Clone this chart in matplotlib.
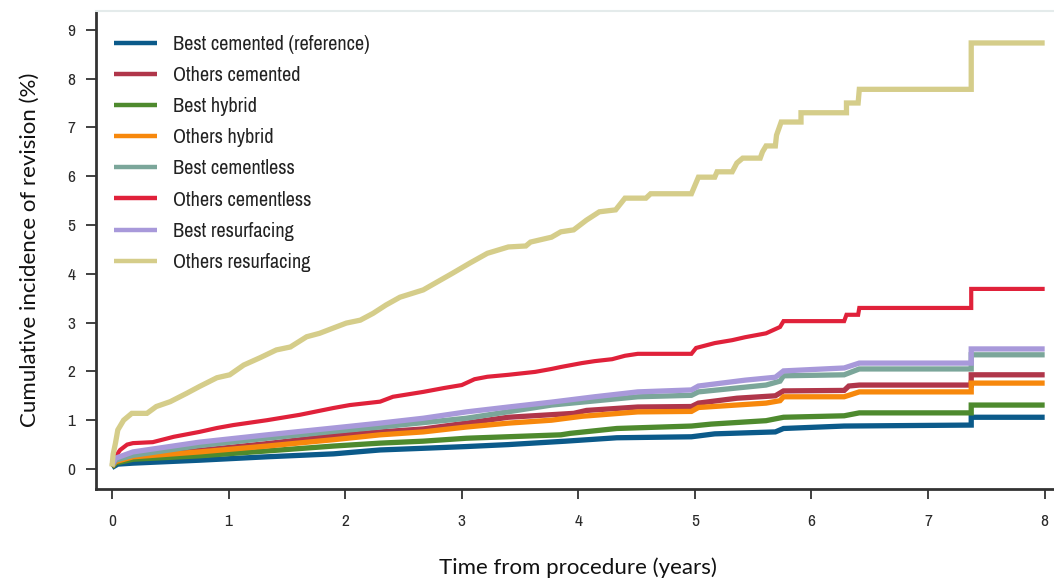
import matplotlib
matplotlib.use("Agg")
import matplotlib.pyplot as plt
from matplotlib import font_manager as fm

# ---------------- data ----------------
labels = ["Best cemented (reference)", "Others cemented", "Best hybrid", "Others hybrid",
          "Best cementless", "Others cementless", "Best resurfacing", "Others resurfacing"]
colors = ["#0B5A8A", "#B0364A", "#4E8A2E", "#F7880C", "#7BA69A", "#E0213A", "#A899DA", "#D5CD8A"]

# (time in years, cumulative incidence %)
best_cemented = [(0, 0.03), (0.05, 0.10), (0.18, 0.12), (0.75, 0.18), (1.33, 0.25), (1.90, 0.31), (2.30, 0.39),
                 (2.73, 0.43), (3.04, 0.46), (3.40, 0.50), (3.89, 0.57), (4.33, 0.64), (4.97, 0.66), (5.17, 0.72),
                 (5.69, 0.76), (5.76, 0.83), (6.28, 0.88), (7.37, 0.90), (7.37, 1.06), (8.0, 1.06)]
others_cemented = [(0, 0.05), (0.03, 0.16), (0.18, 0.25), (0.75, 0.38), (1.33, 0.52), (1.90, 0.68), (2.30, 0.76),
                   (2.67, 0.82), (3.04, 0.94), (3.40, 1.06), (3.96, 1.14), (4.07, 1.20), (4.51, 1.27), (4.97, 1.28),
                   (5.03, 1.35), (5.36, 1.45), (5.69, 1.50), (5.76, 1.60), (6.28, 1.61), (6.32, 1.70), (6.41, 1.72),
                   (7.37, 1.72), (7.37, 1.93), (8.0, 1.93)]
best_hybrid = [(0, 0.04), (0.03, 0.12), (0.18, 0.20), (0.75, 0.27), (1.33, 0.37), (1.90, 0.47), (2.30, 0.53),
               (2.67, 0.57), (3.04, 0.63), (3.85, 0.70), (3.93, 0.73), (4.33, 0.83), (4.97, 0.88), (5.14, 0.92),
               (5.61, 0.99), (5.76, 1.06), (6.28, 1.09), (6.41, 1.15), (7.37, 1.15), (7.37, 1.31), (8.0, 1.31)]
others_hybrid = [(0, 0.05), (0.03, 0.15), (0.18, 0.25), (0.75, 0.35), (1.33, 0.47), (1.90, 0.60), (2.30, 0.70),
                 (2.67, 0.76), (3.04, 0.86), (3.40, 0.94), (3.77, 1.00), (4.03, 1.08), (4.51, 1.17), (4.97, 1.18),
                 (5.03, 1.26), (5.61, 1.35), (5.73, 1.40), (5.76, 1.48), (6.28, 1.48), (6.32, 1.51), (6.41, 1.58),
                 (7.37, 1.58), (7.37, 1.76), (8.0, 1.76)]
best_cementless = [(0, 0.06), (0.03, 0.18), (0.18, 0.28), (0.75, 0.48), (1.33, 0.63), (1.90, 0.77), (2.30, 0.86),
                   (3.04, 1.04), (3.77, 1.31), (4.51, 1.48), (4.97, 1.51), (5.03, 1.58), (5.61, 1.72), (5.73, 1.80),
                   (5.76, 1.91), (6.28, 1.93), (6.41, 2.05), (7.37, 2.05), (7.37, 2.34), (8.0, 2.34)]
others_cementless = [(0, 0.10), (0.02, 0.18), (0.04, 0.29), (0.07, 0.39), (0.13, 0.50), (0.18, 0.53), (0.35, 0.55),
                     (0.53, 0.66), (0.75, 0.76), (0.90, 0.84), (1.04, 0.90), (1.33, 1.00), (1.61, 1.11), (1.90, 1.25),
                     (2.04, 1.31), (2.30, 1.38), (2.41, 1.48), (2.67, 1.58), (2.85, 1.66), (3.00, 1.72), (3.11, 1.84),
                     (3.22, 1.89), (3.40, 1.93), (3.63, 1.99), (3.77, 2.05), (3.85, 2.09), (4.03, 2.17), (4.14, 2.21),
                     (4.29, 2.25), (4.40, 2.32), (4.51, 2.36), (4.97, 2.36), (5.01, 2.48), (5.17, 2.58), (5.32, 2.64),
                     (5.43, 2.70), (5.61, 2.78), (5.73, 2.91), (5.76, 3.03), (6.28, 3.03), (6.30, 3.16), (6.40, 3.16),
                     (6.41, 3.30), (7.37, 3.30), (7.37, 3.69), (8.0, 3.69)]
best_resurfacing = [(0, 0.08), (0.03, 0.22), (0.18, 0.35), (0.75, 0.55), (1.33, 0.70), (1.90, 0.84), (2.30, 0.94),
                    (2.67, 1.04), (3.04, 1.17), (3.40, 1.27), (3.77, 1.37), (4.14, 1.48), (4.51, 1.58), (4.97, 1.62),
                    (5.03, 1.70), (5.43, 1.82), (5.69, 1.88), (5.76, 2.01), (6.28, 2.07), (6.41, 2.17), (7.37, 2.17),
                    (7.37, 2.46), (8.0, 2.46)]
others_resurfacing = [(0, 0.05), (0.01, 0.30), (0.03, 0.53), (0.05, 0.80), (0.10, 1.00), (0.17, 1.14), (0.30, 1.14),
                      (0.38, 1.28), (0.50, 1.38), (0.64, 1.55), (0.75, 1.69), (0.90, 1.87), (1.01, 1.93), (1.13, 2.13),
                      (1.27, 2.28), (1.41, 2.44), (1.53, 2.50), (1.67, 2.71), (1.78, 2.78), (1.90, 2.89), (2.01, 2.99),
                      (2.13, 3.05), (2.24, 3.19), (2.35, 3.36), (2.47, 3.52), (2.67, 3.67), (2.92, 4.01), (3.07, 4.22),
                      (3.22, 4.42), (3.40, 4.55), (3.55, 4.57), (3.59, 4.65), (3.77, 4.75), (3.85, 4.86), (3.96, 4.90),
                      (4.07, 5.10), (4.18, 5.27), (4.32, 5.31), (4.40, 5.55), (4.58, 5.55), (4.62, 5.64), (4.97, 5.64),
                      (5.03, 5.98), (5.17, 5.98), (5.19, 6.09), (5.32, 6.09), (5.36, 6.27), (5.41, 6.37), (5.56, 6.37),
                      (5.58, 6.50), (5.61, 6.62), (5.69, 6.62), (5.70, 6.84), (5.74, 7.11), (5.91, 7.11), (5.91, 7.30),
                      (6.30, 7.30), (6.30, 7.50), (6.40, 7.50), (6.41, 7.78), (7.37, 7.78), (7.37, 8.73), (8.0, 8.73)]

series = [best_cemented, others_cemented, best_hybrid, others_hybrid,
          best_cementless, others_cementless, best_resurfacing, others_resurfacing]
widths = [3.8, 3.8, 3.8, 3.8, 3.8, 3.0, 3.8, 3.8]

x_ticks = list(range(0, 9))
y_ticks = list(range(0, 10))

# ---------------- fonts ----------------
def find_narrow():
    pref = []
    for f in fm.fontManager.ttflist:
        fn = f.fname.lower()
        if "bold" in fn or "oblique" in fn or "italic" in fn:
            continue
        if "narrow" in f.name.lower() or "narrow" in fn:
            pref.append((0, f.fname))
        elif "condensed" in fn or "condensed" in f.name.lower() or str(f.stretch) in ("condensed", "semi-condensed"):
            pref.append((1, f.fname))
    pref.sort()
    return pref[0][1] if pref else None

narrow_file = find_narrow()
def nfont(size):
    if narrow_file:
        return fm.FontProperties(fname=narrow_file, size=size)
    return fm.FontProperties(family="DejaVu Sans", size=size * 0.85)

names = {f.name for f in fm.fontManager.ttflist}
label_font = "Lato" if "Lato" in names else "DejaVu Sans"

# ---------------- figure ----------------
fig = plt.figure(figsize=(10.54, 5.83), dpi=100)
ax = fig.add_axes([96 / 1054, 1 - 489 / 583, (1054 - 96) / 1054, (489 - 11) / 583])

for pts, c, lab, w in zip(series, colors, labels, widths):
    t = [p[0] for p in pts]
    v = [p[1] for p in pts]
    ax.plot(t, v, color=c, lw=w, label=lab, solid_joinstyle="miter", solid_capstyle="butt")

ax.set_xlim(-0.137, 8.08)
ax.set_ylim(-0.41, 9.385)
ax.set_xticks(x_ticks)
ax.set_yticks(y_ticks)
ax.set_xticklabels([str(v) for v in x_ticks], fontproperties=nfont(12.5), color="#2a2a2a")
ax.set_yticklabels([str(v) for v in y_ticks], fontproperties=nfont(12.5), color="#2a2a2a")
ax.tick_params(axis="both", direction="out", length=7, width=1.3, color="#333333")
ax.tick_params(axis="x", pad=11)
ax.tick_params(axis="y", pad=8)

for s in ["left", "bottom"]:
    ax.spines[s].set_color("#333333")
    ax.spines[s].set_linewidth(2)
ax.spines["right"].set_visible(False)
ax.spines["top"].set_color("#E4EBEB")
ax.spines["top"].set_linewidth(1.5)

ax.set_ylabel("Cumulative incidence of revision (%)", fontfamily=label_font, fontsize=16, color="#111111")
ax.set_xlabel("Time from procedure (years)", fontfamily=label_font, fontsize=16, color="#111111")
ax.yaxis.set_label_coords((40 - 96) / 958, 0.5)
ax.xaxis.set_label_coords((578 - 96) / 958, -(557 - 489) / 478)

fs = 14.6
fs_px = fs * 100 / 72
leg = ax.legend(loc="upper left", bbox_to_anchor=(114 / 1054, 1 - 35 / 583), bbox_transform=fig.transFigure,
                frameon=False, prop=nfont(fs), handlelength=43 / fs_px,
                handletextpad=16 / fs_px, labelspacing=0.597, borderaxespad=0, borderpad=0)
for line in leg.get_lines():
    line.set_linewidth(3.2)
for txt in leg.get_texts():
    txt.set_color("#222222")

fig.savefig("out.png", dpi=100)
